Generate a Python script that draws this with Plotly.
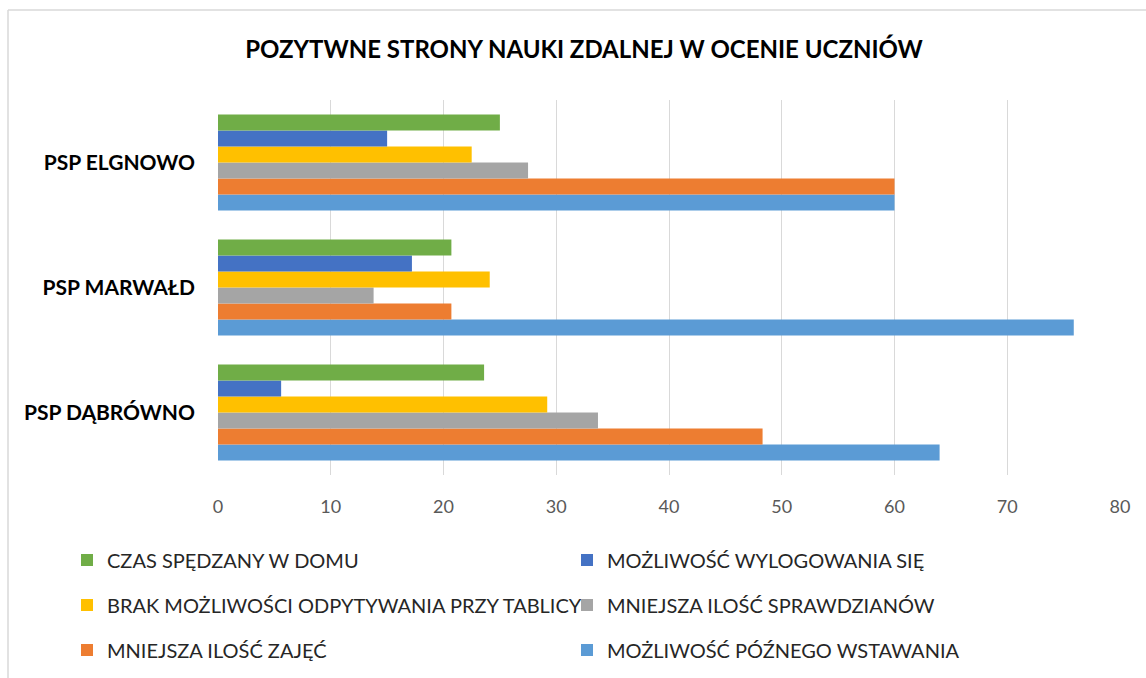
import plotly.graph_objects as go

categories = ["PSP DĄBRÓWNO", "PSP MARWAŁD", "PSP ELGNOWO"]

# series (bottom-to-top order within each group)
series_names = [
    "MOŻLIWOŚĆ PÓŹNEGO WSTAWANIA",
    "MNIEJSZA ILOŚĆ ZAJĘĆ",
    "MNIEJSZA ILOŚĆ SPRAWDZIANÓW",
    "BRAK MOŻLIWOŚCI ODPYTYWANIA PRZY TABLICY",
    "MOŻLIWOŚĆ WYLOGOWANIA SIĘ",
    "CZAS SPĘDZANY W DOMU",
]
poznego_wstawania = [64.0, 75.9, 60.0]
mniej_zajec = [48.3, 20.7, 60.0]
mniej_sprawdzianow = [33.7, 13.8, 27.5]
brak_odpytywania = [29.2, 24.1, 22.5]
wylogowanie = [5.6, 17.2, 15.0]
czas_w_domu = [23.6, 20.7, 25.0]

series_values = [poznego_wstawania, mniej_zajec, mniej_sprawdzianow,
                 brak_odpytywania, wylogowanie, czas_w_domu]
colors = ["#5B9BD5", "#ED7D31", "#A5A5A5", "#FFC000", "#4472C4", "#70AD47"]
legend_ids = ["legend3", "legend3", "legend2", "legend2", "legend", "legend"]
legend_ranks = [2, 1, 2, 1, 2, 1]

x_ticks = [0, 10, 20, 30, 40, 50, 60, 70, 80]

FONT = "Lato"

fig = go.Figure()
for name, vals, col, lg, rk in zip(series_names, series_values, colors, legend_ids, legend_ranks):
    fig.add_trace(go.Bar(
        y=categories, x=vals, name=name, orientation="h",
        marker=dict(color=col, line=dict(width=0)),
        legend=lg, legendrank=rk,
    ))

W, H = 1146, 678
L, R, T, B = 218, 26, 100, 203
pw, ph = W - L - R, H - T - B

def px_x(x):
    return (x - L) / pw

def px_y(y):
    return (H - B - y) / ph

legend_common = dict(
    orientation="h", xanchor="left", yanchor="middle",
    font=dict(family=FONT, size=20, color="#262626"),
    entrywidth=455, entrywidthmode="pixels",
    bgcolor="rgba(0,0,0,0)", itemclick=False, itemdoubleclick=False,
)

fig.update_layout(
    width=W, height=H,
    margin=dict(l=L, r=R, t=T, b=B, autoexpand=False),
    paper_bgcolor="white", plot_bgcolor="white",
    barmode="group", bargap=0.232, bargroupgap=0,
    title=dict(text="<b>POZYTWNE STRONY NAUKI ZDALNEJ W OCENIE UCZNIÓW</b>",
               x=px_x(584), xref="paper", xanchor="center",
               y=1 - 50 / H, yanchor="middle",
               font=dict(family=FONT, size=24, color="#000000")),
    xaxis=dict(range=[0, 80], tickvals=x_ticks, showgrid=True, gridcolor="#D9D9D9",
               gridwidth=1, zeroline=False, showline=False,
               tickfont=dict(family=FONT, size=18, color="#595959"),
               ticks="", ticklabelstandoff=19, fixedrange=True),
    yaxis=dict(categoryorder="array", categoryarray=categories,
               tickfont=dict(family=FONT, size=21, color="#000000"),
               tickprefix="<b>", ticksuffix="</b>",
               ticks="", ticklabelstandoff=22, showgrid=False, showline=False,
               fixedrange=True),
    legend=dict(x=px_x(67), y=px_y(560), **legend_common),
    legend2=dict(x=px_x(67), y=px_y(605), **legend_common),
    legend3=dict(x=px_x(67), y=px_y(650), **legend_common),
    showlegend=True,
)

# chart-area border (top and left visible)
fig.add_shape(type="line", xref="paper", yref="paper",
              x0=px_x(8), x1=px_x(1150), y0=px_y(10), y1=px_y(10),
              line=dict(color="#D9D9D9", width=1.5))
fig.add_shape(type="line", xref="paper", yref="paper",
              x0=px_x(8), x1=px_x(8), y0=px_y(10), y1=px_y(690),
              line=dict(color="#D9D9D9", width=1.5))

fig.write_html("out.html", config={"displayModeBar": False},
               post_script="document.body.style.margin='0';document.body.style.overflow='hidden';")
